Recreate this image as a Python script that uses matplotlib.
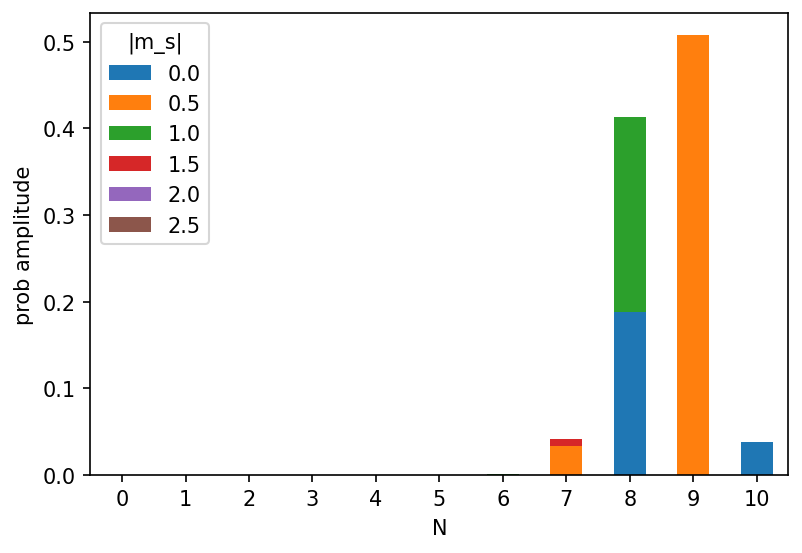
import numpy as np
import pandas as pd
import matplotlib
matplotlib.use("Agg")
import matplotlib.pyplot as plt

# N values and |m_s| components
N = list(range(11))
ms_labels = ["0.0", "0.5", "1.0", "1.5", "2.0", "2.5"]

ms_00 = [0, 0, 0, 0, 0, 0, 0, 0, 0.188, 0, 0.038]
ms_05 = [0, 0, 0, 0, 0, 0, 0, 0.0336, 0, 0.508, 0]
ms_10 = [0, 0, 0, 0, 0, 0, 0.0006, 0, 0.225, 0, 0]
ms_15 = [0, 0, 0, 0, 0, 0, 0, 0.0082, 0, 0, 0]
ms_20 = [0] * 11
ms_25 = [0] * 11

df = pd.DataFrame(
    dict(zip(ms_labels, [ms_00, ms_05, ms_10, ms_15, ms_20, ms_25])),
    index=N,
)
df.index.name = "N"

fig, ax = plt.subplots(figsize=(5.353, 3.693), dpi=150)
df.plot(kind="bar", stacked=True, ax=ax, rot=0)
ax.set_xlabel("N")
ax.set_ylabel("prob amplitude")
ax.legend(title="|m_s|", loc="upper left")
fig.subplots_adjust(left=0.1125, right=0.982, top=0.975, bottom=0.141)
fig.savefig("out.png", dpi=150)
